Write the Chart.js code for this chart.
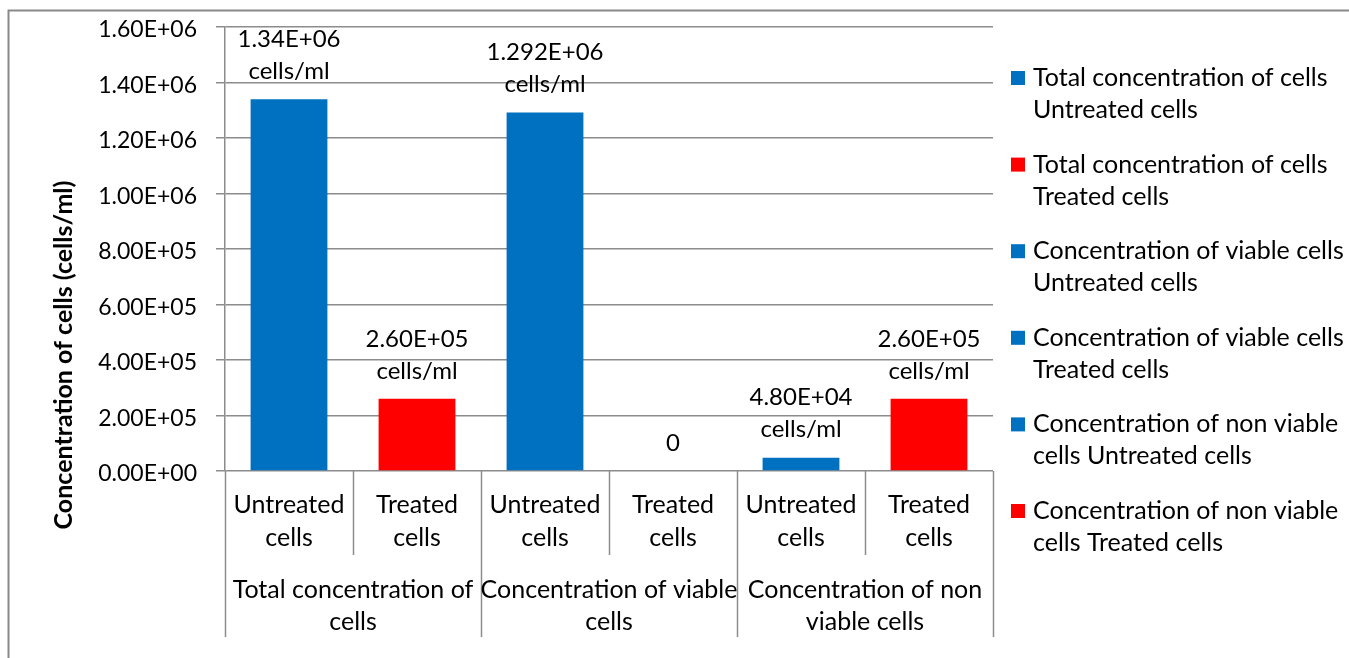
<!DOCTYPE html>
<html>
<head>
<meta charset="utf-8">
<script src="https://cdn.jsdelivr.net/npm/chart.js@4.4.1/dist/chart.umd.min.js"></script>
<style>
  html, body { margin: 0; padding: 0; background: #fff; }
  #wrap { width: 1349px; height: 658px; position: relative; }
</style>
</head>
<body>
<div id="wrap"><canvas id="cellChart" width="1349" height="658"></canvas></div>
<script>
// categories (two levels)
const subLabels = [["Untreated", "cells"], ["Treated", "cells"], ["Untreated", "cells"], ["Treated", "cells"], ["Untreated", "cells"], ["Treated", "cells"]];
const groupLabels = [["Total concentration of", "cells"], ["Concentration of viable", "cells"], ["Concentration of non", "viable cells"]];

// series
const seriesNames = [
    "Total concentration of cells Untreated cells",
    "Total concentration of cells Treated cells",
    "Concentration of viable cells Untreated cells",
    "Concentration of viable cells Treated cells",
    "Concentration of non viable cells Untreated cells",
    "Concentration of non viable cells Treated cells"
];
const legendLines = [
    ["Total concentration of cells", "Untreated cells"],
    ["Total concentration of cells", "Treated cells"],
    ["Concentration of viable cells", "Untreated cells"],
    ["Concentration of viable cells", "Treated cells"],
    ["Concentration of non viable", "cells Untreated cells"],
    ["Concentration of non viable", "cells Treated cells"]
];
const seriesColors = ["#0070C0", "#FF0000", "#0070C0", "#0070C0", "#0070C0", "#FF0000"];
const values = [1340000, 260000, 1292000, 0, 48000, 260000];
const valueLabels = [["1.34E+06", "cells/ml"], ["2.60E+05", "cells/ml"], ["1.292E+06", "cells/ml"], ["0"], ["4.80E+04", "cells/ml"], ["2.60E+05", "cells/ml"]];

// value axis
const yMin = 0;
const yMax = 1600000;
const yStep = 200000;
const yTitle = "Concentration of cells (cells/ml)";

const FONT = "Lato";
const gridGray = "#8c8c8c";

function sciLabel(v) {
    if (v === 0) return "0.00E+00";
    const e = Math.floor(Math.log10(v));
    const m = v / Math.pow(10, e);
    return m.toFixed(2) + "E+" + String(e).padStart(2, "0");
}

const datasets = seriesNames.map((name, i) => ({
    label: name,
    data: values.map((v, j) => (j === i ? v : null)),
    backgroundColor: seriesColors[i],
    borderWidth: 0,
    categoryPercentage: 1,
    barPercentage: 0.6
}));

const extrasPlugin = {
    id: "extras",
    beforeDraw(chart) {
        const ctx = chart.ctx;
        ctx.save();
        ctx.strokeStyle = "#898989";
        ctx.lineWidth = 2;
        ctx.beginPath();
        ctx.moveTo(8.5, 658);
        ctx.lineTo(8.5, 10.5);
        ctx.lineTo(1349, 10.5);
        ctx.stroke();
        ctx.restore();
    },
    afterDraw(chart) {
        const ctx = chart.ctx;
        const area = chart.chartArea;
        const xs = chart.scales.x;
        const n = subLabels.length;
        const w = (area.right - area.left) / n;
        ctx.save();

        // category dividers
        ctx.strokeStyle = gridGray;
        ctx.lineWidth = 1.5;
        for (let i = 0; i <= n; i++) {
            const x = Math.round(area.left + i * w) + 0.5;
            ctx.beginPath();
            ctx.moveTo(x, area.bottom);
            ctx.lineTo(x, i % 2 === 0 ? 637 : 555);
            ctx.stroke();
        }

        ctx.fillStyle = "#000";
        ctx.font = "25px " + FONT;
        ctx.textAlign = "center";
        ctx.textBaseline = "middle";

        // group labels
        groupLabels.forEach((lines, g) => {
            const cx = (xs.getPixelForValue(g * 2) + xs.getPixelForValue(g * 2 + 1)) / 2;
            lines.forEach((t, k) => ctx.fillText(t, cx, 590 + k * 32));
        });

        // value labels
        ctx.font = "24px " + FONT;
        chart.data.datasets.forEach((ds, i) => {
            const bar = chart.getDatasetMeta(i).data[i];
            const lines = valueLabels[i];
            lines.forEach((t, k) => {
                ctx.fillText(t, bar.x, bar.y - 28 - (lines.length - 1 - k) * 32);
            });
        });

        // y title
        ctx.save();
        ctx.font = "bold 25px " + FONT;
        ctx.translate(64, 355);
        ctx.rotate(-Math.PI / 2);
        ctx.fillText(yTitle, 0, 0);
        ctx.restore();

        // legend
        ctx.textAlign = "left";
        ctx.font = "25px " + FONT;
        legendLines.forEach((lines, i) => {
            const cy = 78 + i * 86.6;
            ctx.fillStyle = seriesColors[i];
            ctx.fillRect(1011, cy - 7, 14, 14);
            ctx.fillStyle = "#000";
            lines.forEach((t, k) => ctx.fillText(t, 1033, cy + k * 32));
        });
        ctx.restore();
    }
};

document.addEventListener("DOMContentLoaded", () => {
    const canvas = document.getElementById("cellChart");
    new Chart(canvas, {
        type: "bar",
        data: { labels: subLabels, datasets: datasets },
        options: {
            responsive: false,
            animation: false,
            devicePixelRatio: 1,
            layout: { autoPadding: false, padding: { left: 0, top: 27, right: 356, bottom: 0 } },
            plugins: { legend: { display: false }, tooltip: { enabled: false } },
            scales: {
                x: {
                    stacked: true,
                    grid: { display: false },
                    border: { display: false },
                    ticks: {
                        color: "#000",
                        font: { family: FONT, size: 25, lineHeight: 1.3 },
                        padding: 10,
                        maxRotation: 0,
                        autoSkip: false
                    },
                    afterFit(scale) { scale.height = 187; }
                },
                y: {
                    stacked: true,
                    min: yMin,
                    max: yMax,
                    ticks: {
                        stepSize: yStep,
                        color: "#000",
                        // small lineHeight keeps the scale's label padding from pushing the plot down
                        font: { family: FONT, size: 23, lineHeight: 0.6 },
                        padding: 19,
                        labelOffset: 3,
                        callback: (v) => sciLabel(v)
                    },
                    grid: { color: gridGray, lineWidth: 1.5, tickLength: 9 },
                    border: { color: gridGray, width: 1.5 },
                    afterFit(scale) { scale.width = 225; }
                }
            }
        },
        plugins: [extrasPlugin]
    });
});
</script>
</body>
</html>
